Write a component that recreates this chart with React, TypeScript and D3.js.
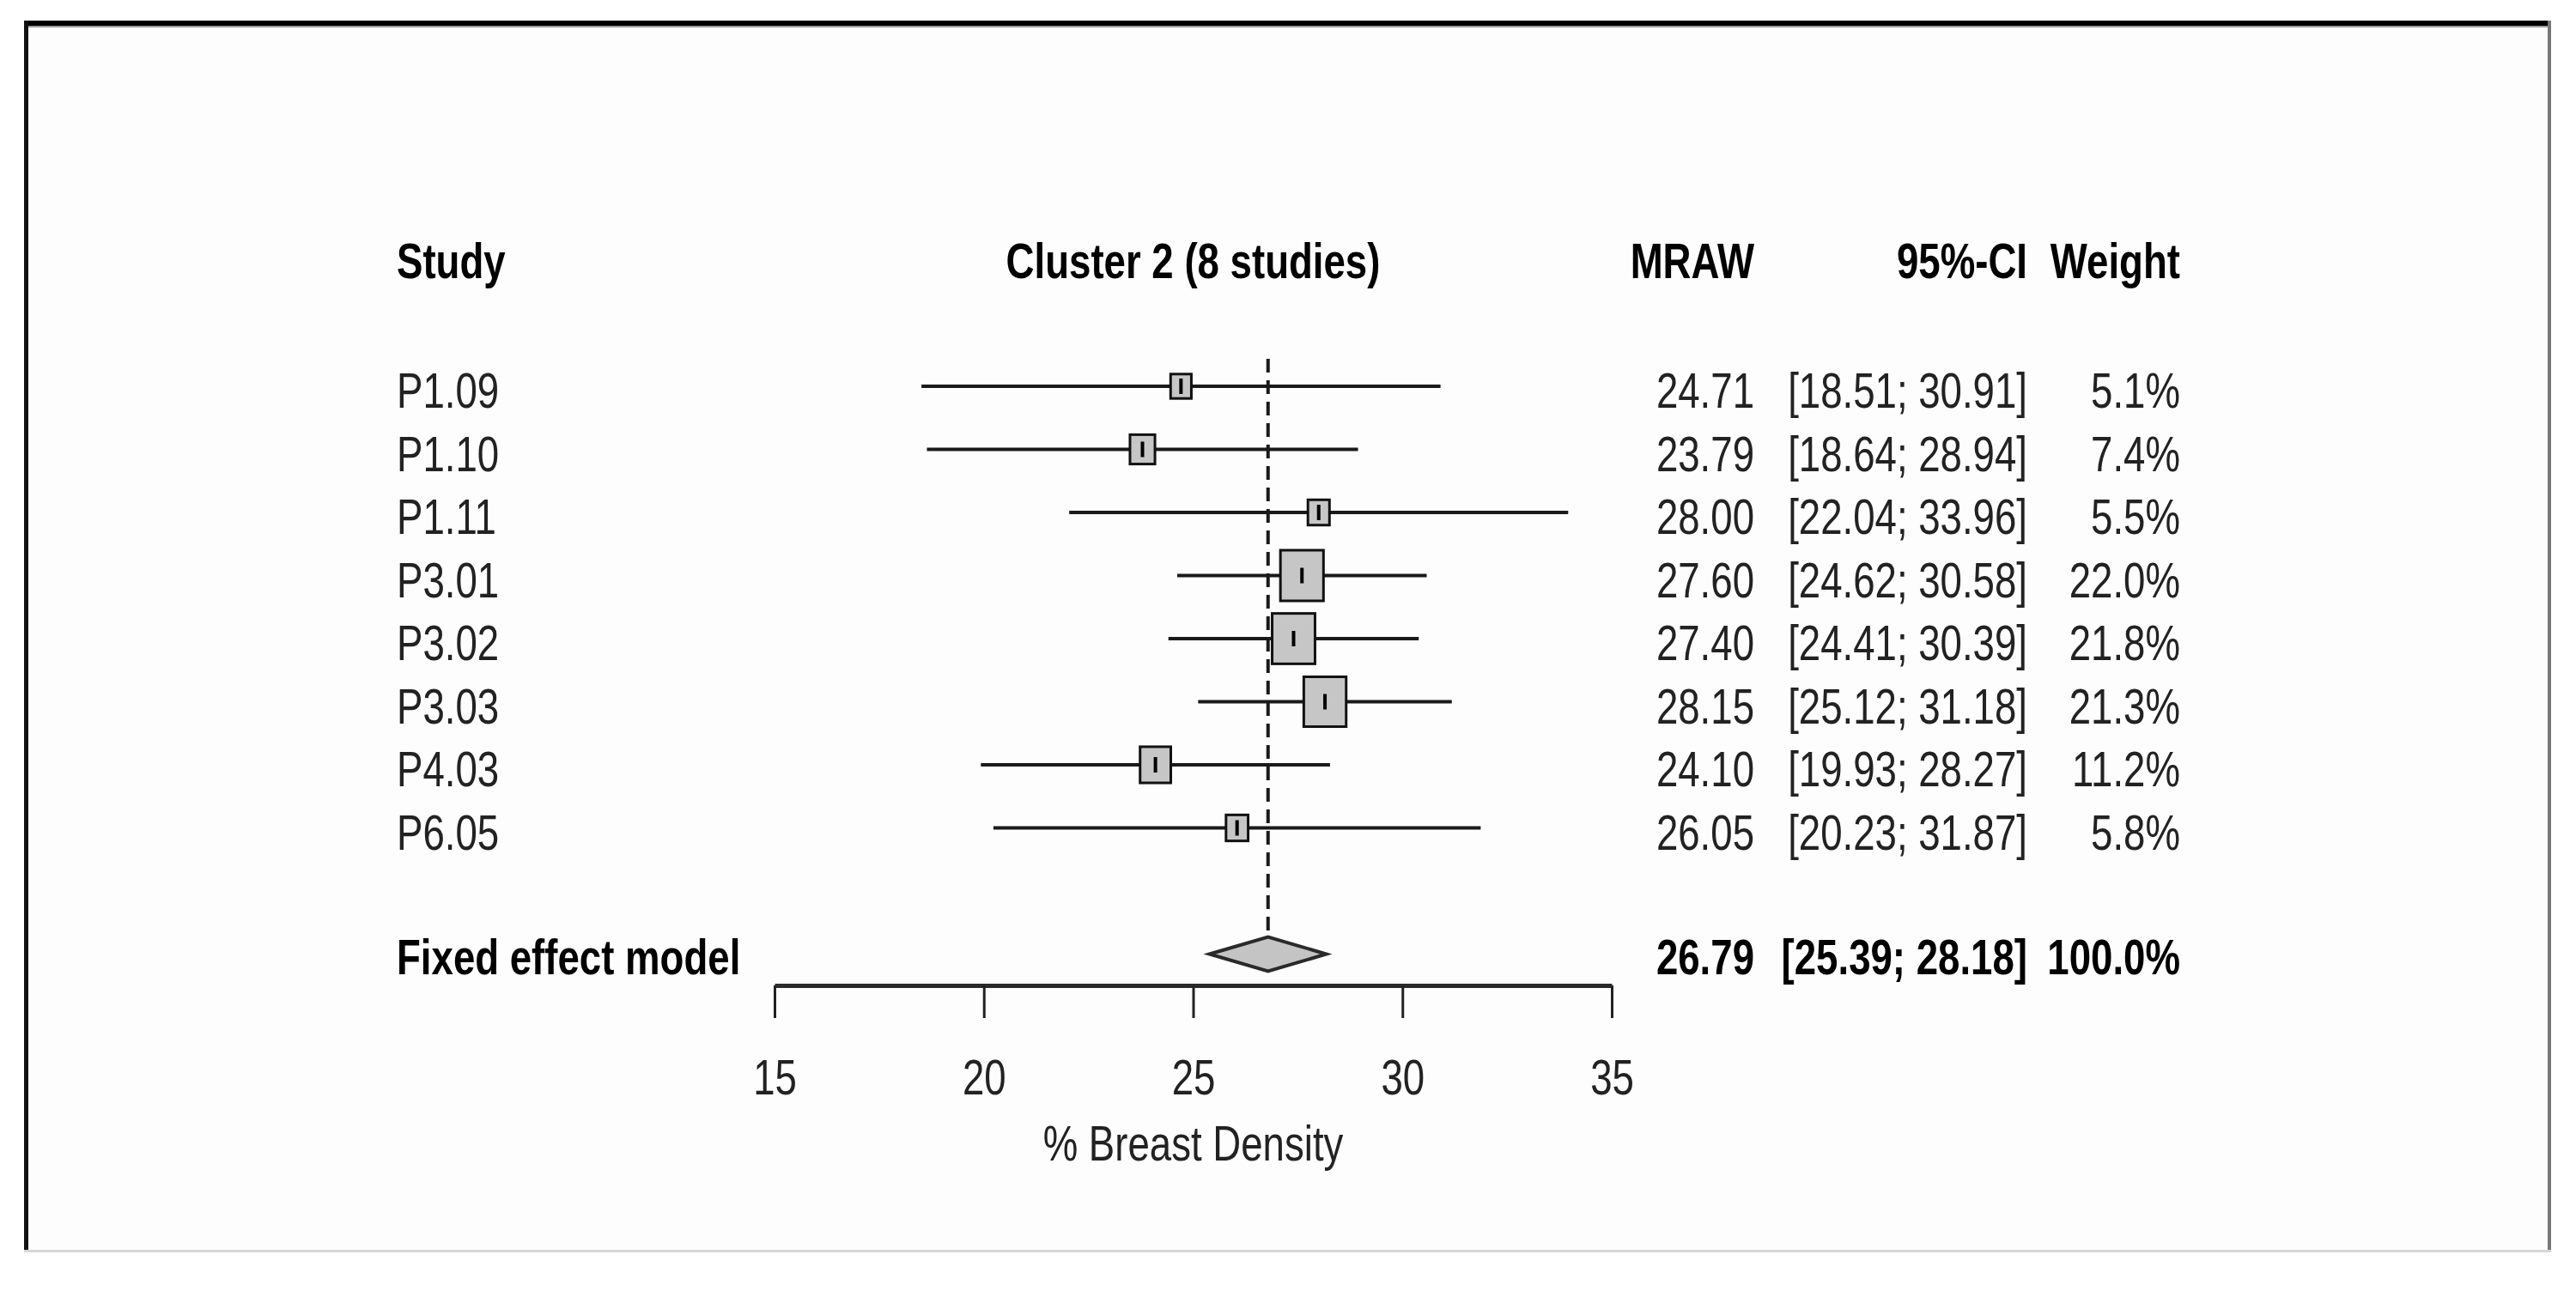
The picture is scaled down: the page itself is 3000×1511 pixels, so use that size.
import React, { useEffect, useRef } from "react";
import * as d3 from "d3";

const studies = ["P1.09", "P1.10", "P1.11", "P3.01", "P3.02", "P3.03", "P4.03", "P6.05"];
const means = [24.71, 23.79, 28.0, 27.6, 27.4, 28.15, 24.1, 26.05];
const lower = [18.51, 18.64, 22.04, 24.62, 24.41, 25.12, 19.93, 20.23];
const upper = [30.91, 28.94, 33.96, 30.58, 30.39, 31.18, 28.27, 31.87];
const weights = [5.1, 7.4, 5.5, 22.0, 21.8, 21.3, 11.2, 5.8];

const pooledLabel = "Fixed effect model";
const pooledMean = 26.79;
const pooledLower = 25.39;
const pooledUpper = 28.18;
const pooledWeight = 100.0;

const headers = ["Study", "Cluster 2 (8 studies)", "MRAW", "95%-CI", "Weight"];
const xTicks = [15, 20, 25, 30, 35];
const xLabel = "% Breast Density";

const W = 3000;
const H = 1511;
const FS = 57;
const SX = 0.8;
const FONT = "'Liberation Sans', Arial, Helvetica, sans-serif";

const x = d3.scaleLinear().domain([15, 35]).range([902, 1877]);
const y = d3.scaleLinear().domain([0, 9]).range([450, 1111.5]);
const boxH = d3.scaleSqrt().domain([0, 22]).range([0, 59]);

const colStudy = 462;
const colMean = 2043;
const colCI = 2361;
const colWeight = 2539;
const axisY = 1148;

const Txt = ({ x, y, anchor = "start", bold = false, children }: any) => (
  <text
    transform={`translate(${x},${y}) scale(${SX},1)`}
    textAnchor={anchor}
    fontFamily={FONT}
    fontSize={FS}
    fontWeight={bold ? 700 : 400}
    fill={bold ? "#000" : "#222"}
  >
    {children}
  </text>
);

const ci = (a: number, b: number) => `[${a.toFixed(2)}; ${b.toFixed(2)}]`;

export default function App() {
  const axisRef = useRef<SVGGElement>(null);

  useEffect(() => {
    if (!axisRef.current) return;
    const g = d3.select(axisRef.current);
    g.selectAll("*").remove();
    g.call(d3.axisBottom(x).tickValues(xTicks).tickSize(38).tickSizeOuter(0).tickFormat(d3.format("d")));
    g.attr("font-size", null).attr("font-family", null);
    g.select(".domain").attr("stroke", "#2a2a2a").attr("stroke-width", 5);
    g.selectAll(".tick line").attr("stroke", "#222").attr("stroke-width", 3);
    g.selectAll(".tick text")
      .attr("y", null)
      .attr("dy", null)
      .attr("transform", `translate(0,127) scale(${SX},1)`)
      .attr("font-family", FONT)
      .attr("font-size", FS)
      .attr("fill", "#222");
  }, []);

  const rowBase = (i: number) => y(i) + 25;
  const headBase = y(-2) + 21;
  const fixY = y(9);

  return (
    <svg
      width={W}
      height={H}
      viewBox={`0 0 ${W} ${H}`}
      style={{ position: "absolute", left: 0, top: 0, background: "#fff" }}
    >
      {/* panel frame */}
      <rect x={28} y={24} width={2943} height={1435} fill="#fdfdfd" />
      <rect x={28} y={24} width={2943} height={6} fill="#000" />
      <rect x={33} y={30} width={2934} height={2} fill="#9a9a9a" />
      <rect x={28} y={24} width={5} height={1435} fill="#111" />
      <rect x={2967} y={24} width={4} height={1435} fill="#777" />
      <rect x={28} y={1456} width={2943} height={3} fill="#d6d6d6" />

      {/* headers */}
      <Txt x={colStudy} y={headBase} bold>{headers[0]}</Txt>
      <Txt x={(x(15) + x(35)) / 2} y={headBase} anchor="middle" bold>{headers[1]}</Txt>
      <Txt x={colMean} y={headBase} anchor="end" bold>{headers[2]}</Txt>
      <Txt x={colCI} y={headBase} anchor="end" bold>{headers[3]}</Txt>
      <Txt x={colWeight} y={headBase} anchor="end" bold>{headers[4]}</Txt>

      {/* reference line */}
      <line
        x1={x(pooledMean)}
        x2={x(pooledMean)}
        y1={418}
        y2={fixY + 20}
        stroke="#1a1a1a"
        strokeWidth={4}
        strokeDasharray="16,9"
      />

      {/* studies */}
      {studies.map((s, i) => {
        const h = boxH(weights[i]);
        const w = h * 0.85;
        const cy = y(i);
        const cx = x(means[i]);
        return (
          <g key={s}>
            <line x1={x(lower[i])} x2={x(upper[i])} y1={cy} y2={cy} stroke="#1a1a1a" strokeWidth={4} />
            <rect x={cx - w / 2} y={cy - h / 2} width={w} height={h} fill="#c6c6c6" stroke="#111" strokeWidth={3} />
            <line x1={cx} x2={cx} y1={cy - Math.min(9, h / 2 - 3)} y2={cy + Math.min(9, h / 2 - 3)} stroke="#000" strokeWidth={4} />
            <Txt x={colStudy} y={rowBase(i)}>{s}</Txt>
            <Txt x={colMean} y={rowBase(i)} anchor="end">{means[i].toFixed(2)}</Txt>
            <Txt x={colCI} y={rowBase(i)} anchor="end">{ci(lower[i], upper[i])}</Txt>
            <Txt x={colWeight} y={rowBase(i)} anchor="end">{`${weights[i].toFixed(1)}%`}</Txt>
          </g>
        );
      })}

      {/* pooled estimate */}
      <polygon
        points={[
          [x(pooledLower), fixY],
          [x(pooledMean), fixY - 20],
          [x(pooledUpper), fixY],
          [x(pooledMean), fixY + 20],
        ]
          .map((p) => p.join(","))
          .join(" ")}
        fill="#c4c4c4"
        stroke="#2a2a2a"
        strokeWidth={4}
      />
      <Txt x={colStudy} y={fixY + 23} bold>{pooledLabel}</Txt>
      <Txt x={colMean} y={fixY + 23} anchor="end" bold>{pooledMean.toFixed(2)}</Txt>
      <Txt x={colCI} y={fixY + 23} anchor="end" bold>{ci(pooledLower, pooledUpper)}</Txt>
      <Txt x={colWeight} y={fixY + 23} anchor="end" bold>{`${pooledWeight.toFixed(1)}%`}</Txt>

      {/* x axis */}
      <g ref={axisRef} transform={`translate(0,${axisY})`} />
      <Txt x={(x(15) + x(35)) / 2} y={1352} anchor="middle">{xLabel}</Txt>
    </svg>
  );
}
